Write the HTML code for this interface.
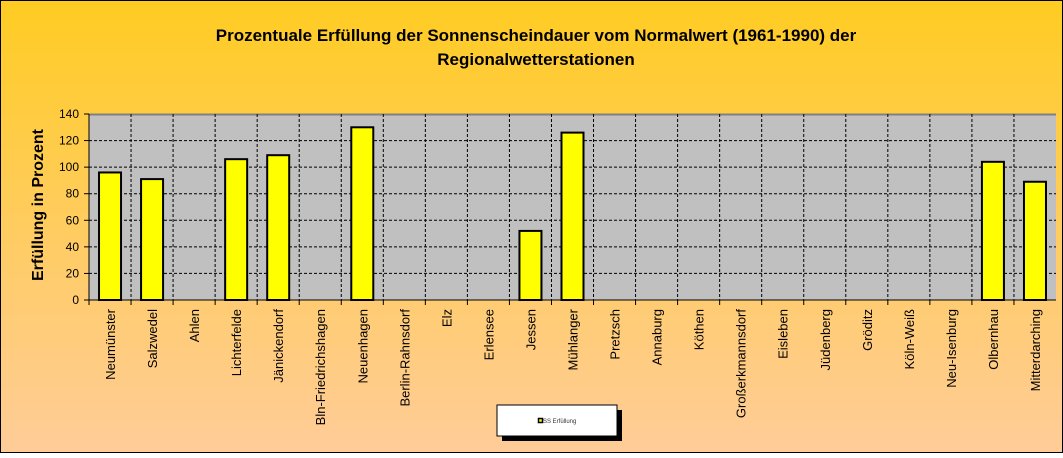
<!DOCTYPE html>
<html><head><meta charset="utf-8"><style>
html,body{margin:0;padding:0}
body{width:1063px;height:453px;overflow:hidden;font-family:"Liberation Sans",sans-serif}
</style></head><body>
<svg id="chart" width="1063" height="453" xmlns="http://www.w3.org/2000/svg" font-family="Liberation Sans, sans-serif">
<defs><linearGradient id="bg" x1="0" y1="0" x2="0" y2="1">
<stop offset="0" stop-color="#ffcc22"/><stop offset="0.55" stop-color="#ffcc66"/><stop offset="1" stop-color="#ffcc99"/></linearGradient></defs>
<rect x="0.5" y="0.5" width="1062" height="452" fill="url(#bg)" stroke="#000"/>
<text x="536" y="41" text-anchor="middle" font-size="17" font-weight="bold">Prozentuale Erfüllung der Sonnenscheindauer vom Normalwert (1961-1990) der</text>
<text x="536" y="65" text-anchor="middle" font-size="17" font-weight="bold">Regionalwetterstationen</text>
<rect x="89" y="114" width="967" height="186" fill="#c0c0c0"/>
<line x1="89" y1="114.5" x2="1056" y2="114.5" stroke="#808080" stroke-width="2"/>
<g id="grid"></g><g id="bars"></g><g id="axes"></g>
<text transform="translate(43,205) rotate(-90)" text-anchor="middle" font-size="16" font-weight="bold">Erfüllung  in Prozent</text>
<rect x="502" y="410" width="120" height="31" fill="#000"/>
<rect x="497" y="405" width="120" height="31" fill="#fff" stroke="#000"/>
<rect x="538.5" y="418.5" width="4" height="4" fill="#ff0" stroke="#000" stroke-width="1.5"/>
<text x="543" y="423" font-size="6" fill="#333">SS Erfüllung</text>
</svg>
<script>
const categories=["Neumünster","Salzwedel","Ahlen","Lichterfelde","Jänickendorf","Bln-Friedrichshagen","Neuenhagen","Berlin-Rahnsdorf","Elz","Erlensee","Jessen","Mühlanger","Pretzsch","Annaburg","Köthen","Großerkmannsdorf","Eisleben","Jüdenberg","Gröditz","Köln-Weiß","Neu-Isenburg","Olbernhau","Mitterdarching"];
const values=[96,91,null,106,109,null,130,null,null,null,52,126,null,null,null,null,null,null,null,null,null,104,89];
const yTicks=[0,20,40,60,80,100,120,140];
const NS="http://www.w3.org/2000/svg";
const L=89,R=1056,T=114,B=300,yMax=140;
const cw=(R-L)/categories.length;
const x=i=>L+i*cw;
const y=v=>B-(v/yMax)*(B-T);
function mk(t,a,p){const e=document.createElementNS(NS,t);for(const k in a)e.setAttribute(k,a[k]);p.appendChild(e);return e;}
const grid=document.getElementById('grid'),bars=document.getElementById('bars'),axes=document.getElementById('axes');
yTicks.forEach(v=>{
 if(v>0&&v<yMax){const g=mk('line',{x1:L,x2:R,y1:y(v),y2:y(v),stroke:'#000','stroke-dasharray':'3,2','stroke-width':1},grid);
 
 }
 const tk=mk('line',{x1:L-5,x2:L,y1:y(v),y2:y(v),stroke:'#000'},axes);
 
 
 const t=mk('text',{x:L-10,y:y(v)+4,'text-anchor':'end','font-size':12},axes);t.textContent=v;
 
 
});
for(let i=1;i<categories.length;i++){const g=mk('line',{x1:x(i),x2:x(i),y1:T,y2:B,stroke:'#000','stroke-dasharray':'3,2'},grid);
 
 }
categories.forEach((c,i)=>{
 const cx=x(i)+cw/2;
 if(values[i]!=null){const b=mk('rect',{x:cx-11,y:y(values[i]),width:22,height:B-y(values[i]),fill:'#ffff00',stroke:'#000','stroke-width':2},bars);
 
 }
 const tk=mk('line',{x1:x(i),x2:x(i),y1:B,y2:B+5,stroke:'#000'},axes);
 
 
 const t=mk('text',{transform:`translate(${cx+5},${B+9}) rotate(-90)`,'text-anchor':'end','font-size':13},axes);t.textContent=c;
 
 
});
const ya=mk('line',{x1:L,x2:L,y1:T,y2:B,stroke:'#000'},axes);


const xa=mk('line',{x1:L,x2:R,y1:B,y2:B,stroke:'#000'},axes);


</script>
</body></html>
